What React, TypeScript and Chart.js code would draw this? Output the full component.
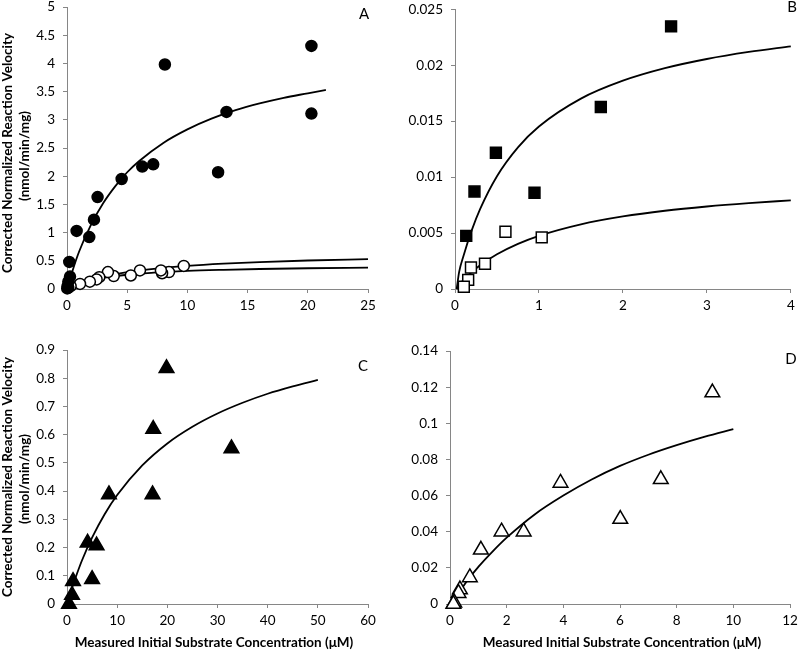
import React, { useEffect, useRef } from 'react';
import { Chart, registerables } from 'chart.js';

Chart.register(...registerables);

const FONT = 'Lato, "Open Sans", sans-serif';

// ---------- Panel A ----------
const aFilledX = [20.3, 8.13, 20.3, 13.25, 12.55, 7.16, 6.25, 4.54, 2.54, 2.24, 1.85, 0.8, 0.19, 0.25, 0.11, 0.05, 0.02];
const aFilledY = [4.31, 3.98, 3.11, 3.14, 2.07, 2.21, 2.17, 1.95, 1.63, 1.23, 0.92, 1.03, 0.48, 0.22, 0.13, 0.05, 0.01];
const aOpenX = [9.7, 8.47, 7.9, 7.8, 6.06, 5.3, 3.88, 3.4, 2.68, 2.46, 1.9, 1.08, 0.3, 0.1];
const aOpenY = [0.41, 0.3, 0.28, 0.33, 0.33, 0.24, 0.23, 0.3, 0.21, 0.17, 0.13, 0.09, 0.05, 0.02];
const aFitFilledX = [0, 0.5, 1, 2, 3, 4, 5, 6, 8, 10, 12, 14, 16, 18, 20, 21.5];
const aFitFilledY = [0, 0.35, 0.66, 1.14, 1.52, 1.82, 2.07, 2.27, 2.59, 2.83, 3.02, 3.17, 3.29, 3.39, 3.47, 3.53];
const aFitUpperX = [0, 1, 2, 3, 5, 7, 10, 13, 16, 20, 25];
const aFitUpperY = [0, 0.093, 0.163, 0.218, 0.298, 0.353, 0.41, 0.449, 0.477, 0.505, 0.53];
const aFitLowerX = [0, 1, 2, 3, 5, 7, 10, 13, 16, 20, 25];
const aFitLowerY = [0, 0.095, 0.156, 0.198, 0.253, 0.287, 0.32, 0.34, 0.355, 0.368, 0.38];
const aXTicks = ['0', '5', '10', '15', '20', '25'];
const aYTicks = ['0', '0.5', '1', '1.5', '2', '2.5', '3', '3.5', '4', '4.5', '5'];

// ---------- Panel B ----------
const bFilledX = [2.574, 1.737, 0.487, 0.232, 0.947, 0.134];
const bFilledY = [0.02347, 0.01626, 0.01218, 0.00871, 0.0086, 0.00475];
const bOpenX = [0.601, 1.033, 0.357, 0.19, 0.157, 0.105];
const bOpenY = [0.00511, 0.00461, 0.00226, 0.00192, 0.00082, 0.0002];
const bFitUpperX = [0.02, 0.05, 0.1, 0.2, 0.3, 0.5, 0.75, 1, 1.5, 2, 2.5, 3, 3.5, 4];
const bFitUpperY = [0, 0.00155, 0.00293, 0.00526, 0.00716, 0.01008, 0.01266, 0.01452, 0.01701, 0.01861, 0.01973, 0.02055, 0.02118, 0.02168];
const bFitLowerX = [0.02, 0.1, 0.2, 0.3, 0.5, 0.75, 1, 1.5, 2, 2.5, 3, 3.5, 4];
const bFitLowerY = [0, 0.00082, 0.00152, 0.00212, 0.0031, 0.00403, 0.00475, 0.00578, 0.00648, 0.00699, 0.00737, 0.00767, 0.00792];
const bXTicks = ['0', '1', '2', '3', '4'];
const bYTicks = ['0', '0.005', '0.01', '0.015', '0.02', '0.025'];

// ---------- Panel C ----------
const cX = [19.84, 17.19, 32.78, 17.05, 8.36, 4.11, 5.9, 5.0, 1.2, 1.0, 0.4];
const cY = [0.835, 0.62, 0.551, 0.388, 0.388, 0.217, 0.207, 0.088, 0.081, 0.032, 0.0];
const cFitX = [0, 1, 2, 3, 5, 7.5, 10, 15, 20, 25, 30, 35, 40, 45, 50];
const cFitY = [0, 0.057, 0.108, 0.155, 0.235, 0.318, 0.386, 0.491, 0.569, 0.628, 0.675, 0.713, 0.745, 0.771, 0.794];
const cXTicks = ['0', '10', '20', '30', '40', '50', '60'];
const cYTicks = ['0', '0.1', '0.2', '0.3', '0.4', '0.5', '0.6', '0.7', '0.8', '0.9'];

// ---------- Panel D ----------
const dX = [9.26, 7.44, 6.01, 3.9, 2.6, 1.82, 1.09, 0.7, 0.35, 0.3, 0.15, 0.12];
const dY = [0.117, 0.069, 0.047, 0.067, 0.04, 0.04, 0.03, 0.0147, 0.008, 0.006, 0.0007, 0.0];
const dFitX = [0.1, 0.5, 1, 1.5, 2, 3, 4, 5, 6, 7, 8, 9, 10];
const dFitY = [0, 0.0105, 0.0205, 0.029, 0.0367, 0.0497, 0.06, 0.0689, 0.0764, 0.0826, 0.0879, 0.0926, 0.0968];
const dXTicks = ['0', '2', '4', '6', '8', '10', '12'];
const dYTicks = ['0', '0.02', '0.04', '0.06', '0.08', '0.1', '0.12', '0.14'];

const yTitle1 = 'Corrected Normalized Reaction Velocity';
const yTitle2 = '(nmol/min/mg)';
const xTitle = 'Measured Initial Substrate Concentration (\u03bcM)';

const pts = (xs: number[], ys: number[]) => xs.map((x, i) => ({ x, y: ys[i] }));

const pointSet = (xs: number[], ys: number[], style: string, filled: boolean, radius: number) => ({
  data: pts(xs, ys),
  showLine: false,
  pointStyle: style,
  pointRadius: radius,
  pointBackgroundColor: filled ? '#000000' : '#ffffff',
  pointBorderColor: '#000000',
  pointBorderWidth: 1.5,
  clip: false as const,
});

const lineSet = (xs: number[], ys: number[]) => ({
  data: pts(xs, ys),
  showLine: true,
  pointRadius: 0,
  borderColor: '#000000',
  borderWidth: 1.8,
  cubicInterpolationMode: 'monotone' as const,
  fill: false,
  clip: false as const,
});

type TextItem = { text: string; x: number; y: number; font: string; rotate?: boolean };

type PanelProps = {
  left: number; top: number; width: number; height: number;
  area: { l: number; r: number; t: number; b: number };
  xMax: number; xStep: number; yMax: number; yStep: number;
  xLabels: string[]; yLabels: string[];
  datasets: any[];
  texts: TextItem[];
};

function Panel(p: PanelProps) {
  const ref = useRef<HTMLCanvasElement>(null);
  useEffect(() => {
    if (!ref.current) return;
    const textPlugin = {
      id: 'panelTexts',
      afterDraw(chart: any) {
        const ctx = chart.ctx;
        ctx.save();
        ctx.fillStyle = '#000';
        ctx.textAlign = 'center';
        ctx.textBaseline = 'middle';
        for (const t of p.texts) {
          ctx.save();
          ctx.font = t.font;
          ctx.translate(t.x, t.y);
          if (t.rotate) ctx.rotate(-Math.PI / 2);
          ctx.fillText(t.text, 0, 0);
          ctx.restore();
        }
        ctx.restore();
      },
    };
    const axisColor = '#868686';
    const tickFont = { family: FONT, size: 13.5 };
    const chart = new Chart(ref.current, {
      type: 'scatter',
      data: { datasets: p.datasets },
      options: {
        animation: false,
        responsive: false,
        maintainAspectRatio: false,
        devicePixelRatio: 1,
        layout: { padding: { left: 0, top: p.area.t, right: p.width - p.area.r, bottom: 0 } },
        plugins: { legend: { display: false }, tooltip: { enabled: false } },
        scales: {
          x: {
            type: 'linear',
            min: 0,
            max: p.xMax,
            ticks: {
              stepSize: p.xStep,
              autoSkip: false,
              maxRotation: 0,
              color: '#000',
              font: tickFont,
              padding: 5,
              callback: (_v: any, i: number) => p.xLabels[i],
            },
            grid: { drawOnChartArea: false, drawTicks: true, tickLength: 4, color: axisColor },
            border: { display: true, color: axisColor, width: 1 },
            afterFit: (s: any) => {
              s.height = p.height - p.area.b;
              s.paddingLeft = 0; s.paddingRight = 0; s.paddingTop = 0; s.paddingBottom = 0;
            },
          },
          y: {
            type: 'linear',
            min: 0,
            max: p.yMax,
            ticks: {
              stepSize: p.yStep,
              autoSkip: false,
              color: '#000',
              font: tickFont,
              padding: 8,
              callback: (_v: any, i: number) => p.yLabels[i],
            },
            grid: { drawOnChartArea: false, drawTicks: true, tickLength: 4, color: axisColor },
            border: { display: true, color: axisColor, width: 1 },
            afterFit: (s: any) => {
              s.width = p.area.l;
              s.paddingLeft = 0; s.paddingRight = 0; s.paddingTop = 0; s.paddingBottom = 0;
            },
          },
        },
      } as any,
      plugins: [textPlugin],
    });
    return () => chart.destroy();
  }, []);
  return (
    <canvas
      ref={ref}
      width={p.width}
      height={p.height}
      style={{ position: 'absolute', left: p.left, top: p.top, width: p.width, height: p.height, display: 'block' }}
    />
  );
}

const yTitleFont = `bold 13.5px ${FONT}`;
const xTitleFont = `bold 13.5px ${FONT}`;
const letterFont = `15px ${FONT}`;

export default function App() {
  return (
    <div style={{ position: 'absolute', left: 0, top: 0, width: 800, height: 652, background: '#fff', overflow: 'hidden' }}>
      <Panel
        left={0} top={0} width={400} height={320}
        area={{ l: 67, r: 368, t: 5, b: 289 }}
        xMax={25} xStep={5} yMax={5} yStep={0.5}
        xLabels={aXTicks} yLabels={aYTicks}
        datasets={[
          pointSet(aFilledX, aFilledY, 'circle', true, 5.5),
          pointSet(aOpenX, aOpenY, 'circle', false, 5.5),
          lineSet(aFitFilledX, aFitFilledY),
          lineSet(aFitUpperX, aFitUpperY),
          lineSet(aFitLowerX, aFitLowerY),
        ]}
        texts={[
          { text: 'A', x: 364, y: 14, font: letterFont },
          { text: yTitle1, x: 8, y: 153, font: yTitleFont, rotate: true },
          { text: yTitle2, x: 25, y: 156, font: yTitleFont, rotate: true },
        ]}
      />
      <Panel
        left={400} top={0} width={400} height={320}
        area={{ l: 55, r: 394, t: 5, b: 289 }}
        xMax={4} xStep={1} yMax={0.025} yStep={0.005}
        xLabels={bXTicks} yLabels={bYTicks}
        datasets={[
          pointSet(bFilledX, bFilledY, 'rect', true, 7.7),
          pointSet(bOpenX, bOpenY, 'rect', false, 7.7),
          lineSet(bFitUpperX, bFitUpperY),
          lineSet(bFitLowerX, bFitLowerY),
        ]}
        texts={[{ text: 'B', x: 392, y: 7, font: letterFont }]}
      />
      <Panel
        left={0} top={320} width={400} height={332}
        area={{ l: 67, r: 368, t: 30, b: 284 }}
        xMax={60} xStep={10} yMax={0.9} yStep={0.1}
        xLabels={cXTicks} yLabels={cYTicks}
        datasets={[
          pointSet(cX, cY, 'triangle', true, 8.5),
          lineSet(cFitX, cFitY),
        ]}
        texts={[
          { text: 'C', x: 363, y: 46, font: letterFont },
          { text: yTitle1, x: 8, y: 157, font: yTitleFont, rotate: true },
          { text: yTitle2, x: 25, y: 159, font: yTitleFont, rotate: true },
          { text: xTitle, x: 214, y: 323, font: xTitleFont },
        ]}
      />
      <Panel
        left={400} top={320} width={400} height={332}
        area={{ l: 50, r: 393, t: 31, b: 284 }}
        xMax={12} xStep={2} yMax={0.14} yStep={0.02}
        xLabels={dXTicks} yLabels={dYTicks}
        datasets={[
          pointSet(dX, dY, 'triangle', false, 8.5),
          lineSet(dFitX, dFitY),
        ]}
        texts={[
          { text: 'D', x: 391, y: 39, font: letterFont },
          { text: xTitle, x: 222, y: 323, font: xTitleFont },
        ]}
      />
    </div>
  );
}
